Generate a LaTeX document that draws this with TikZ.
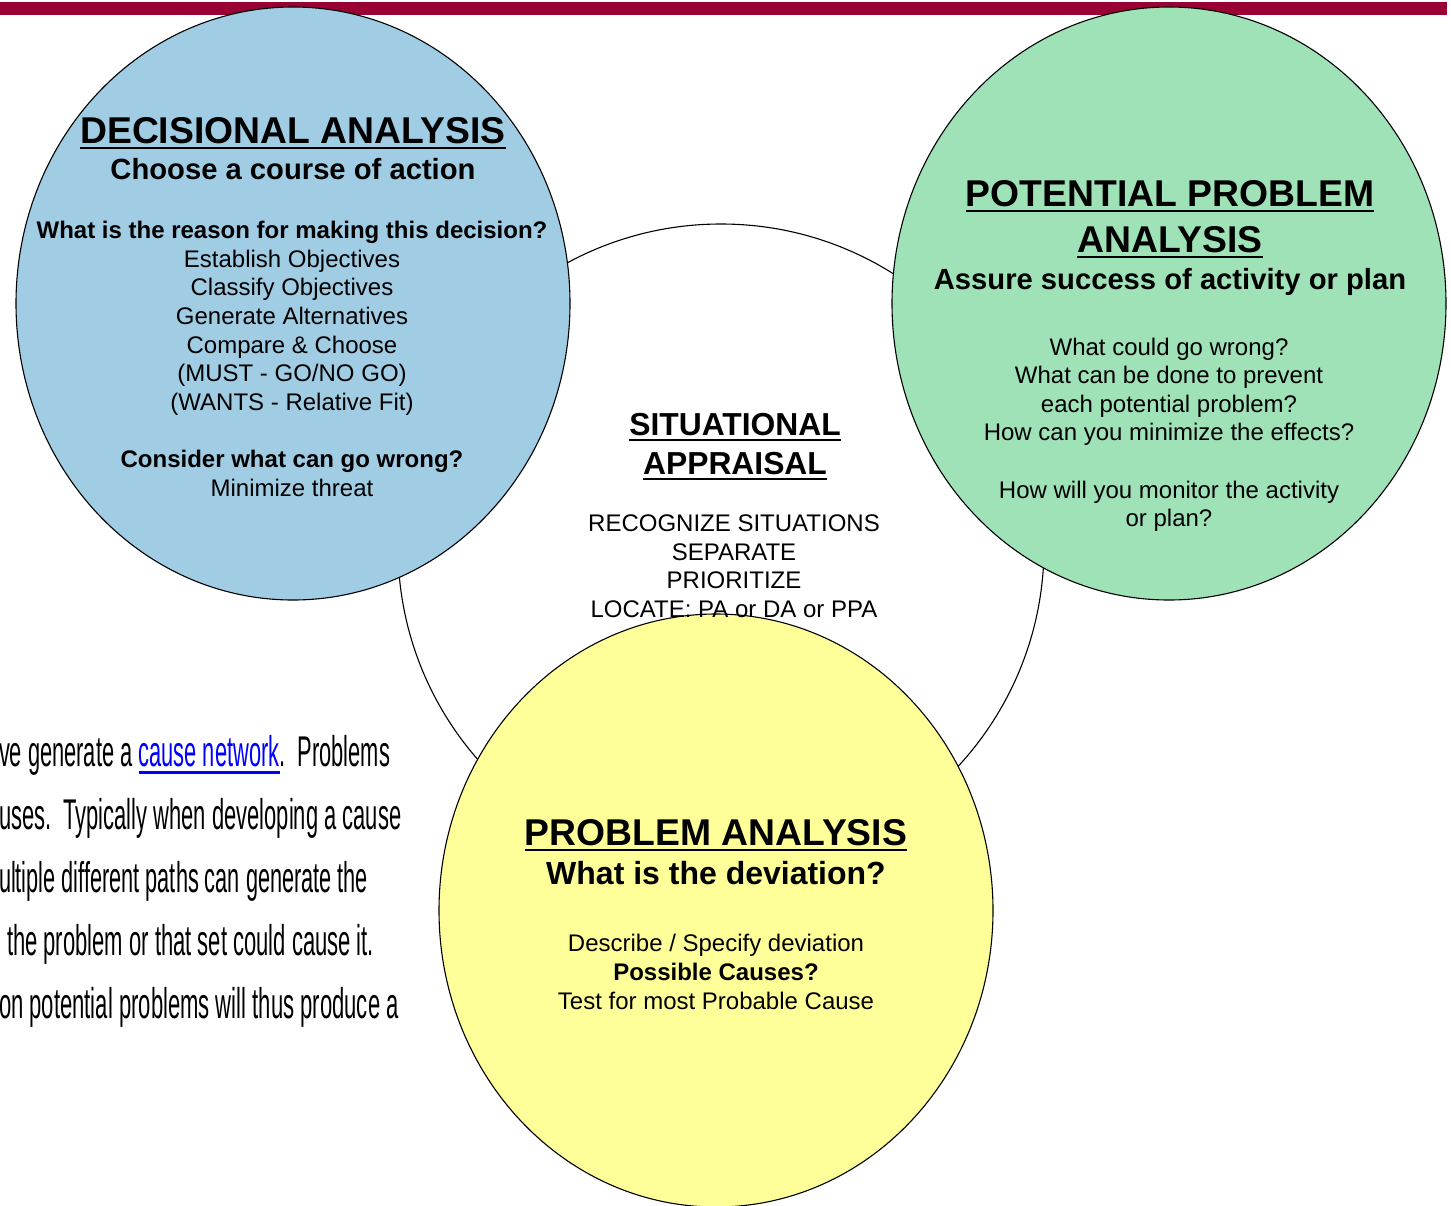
\documentclass[tikz,border=0pt]{standalone}
\usepackage{fontspec}
\setmainfont{Liberation Sans}
\usepackage{graphicx}

\definecolor{barred}{HTML}{990033}
\definecolor{dablue}{HTML}{A0CCE4}
\definecolor{ppagreen}{HTML}{A0E2B8}
\definecolor{payellow}{HTML}{FFFF99}
\definecolor{linkblue}{HTML}{0000FF}

% underline with chosen depth (#1) and thickness (#2)
\newcommand{\ulrule}[3]{\setbox0\hbox{#3}\rlap{\rule[-#1]{\wd0}{#2}}\box0}
\newcommand{\titleul}[1]{\ulrule{3pt}{1pt}{#1}}

\begin{document}
\begin{tikzpicture}[x=0.5pt, y=-0.5pt,
  lbl/.style={inner sep=0pt, outer sep=0pt, anchor=base},
  titlefont/.style={font=\fontsize{18.65}{22}\selectfont\bfseries},
  subfont/.style={font=\fontsize{14.6}{17}\selectfont\bfseries},
  bigsubfont/.style={font=\fontsize{16}{19}\selectfont\bfseries},
  bodyfont/.style={font=\fontsize{12}{14.4}\selectfont},
  bodybold/.style={font=\fontsize{12}{14.4}\selectfont\bfseries},
  sitfont/.style={font=\fontsize{15.9}{19}\selectfont\bfseries},
  narrowfont/.style={font=\fontsize{21.5}{25}\selectfont},
  ring/.style={draw=black, line width=0.55pt}]
\useasboundingbox (0,0) rectangle (1451,1205);
\clip (0,0) rectangle (1451,1205);

% header bar
\fill[barred] (0,2) rectangle (1447,15);

% situational appraisal ring (behind the three analysis circles)
\draw[ring, fill=white] (721,547) circle [radius=161.5pt];

% the three analysis circles
\draw[ring, fill=dablue]   (293,303.5) ellipse [x radius=138.5pt, y radius=148.25pt];
\draw[ring, fill=ppagreen] (1169,303.5) ellipse [x radius=138.5pt, y radius=148.25pt];
\draw[ring, fill=payellow] (716,910.5) ellipse [x radius=138.5pt, y radius=148.25pt];

% running text on the left
\node[lbl, narrowfont, anchor=base west] (t1) at (-1,766)
  {\scalebox{0.508}[1]{ve generate a \textcolor{linkblue}{\ulrule{4pt}{1.5pt}{cause network}}.\ \ Problems}};
\node[lbl, narrowfont, anchor=base west] (t2) at (-1,829)
  {\scalebox{0.51}[1]{uses.\ \ Typically when developing a cause}};
\node[lbl, narrowfont, anchor=base west] (t3) at (-1,892)
  {\scalebox{0.505}[1]{ultiple different paths can generate the}};
\node[lbl, narrowfont, anchor=base west] (t4) at (7,955)
  {\scalebox{0.512}[1]{the problem or that set could cause it.}};
\node[lbl, narrowfont, anchor=base west] (t5) at (-1,1018)
  {\scalebox{0.513}[1]{on potential problems will thus produce a}};

% decisional analysis
\node[lbl, titlefont] (daT) at (293,143) {\titleul{DECISIONAL ANALYSIS}};
\node[lbl, subfont]   (daS) at (293,179) {Choose a course of action};
\node[lbl, bodybold]  (da0) at (292,238) {What is the reason for making this decision?};
\node[lbl, bodyfont]  (da1) at (292,267) {Establish Objectives};
\node[lbl, bodyfont]  (da2) at (292,295) {Classify Objectives};
\node[lbl, bodyfont]  (da3) at (292,324) {Generate Alternatives};
\node[lbl, bodyfont]  (da4) at (292,353) {Compare \& Choose};
\node[lbl, bodyfont]  (da5) at (292,381) {(MUST - GO/NO GO)};
\node[lbl, bodyfont]  (da6) at (292,410) {(WANTS - Relative Fit)};
\node[lbl, bodybold]  (da7) at (292,467) {Consider what can go wrong?};
\node[lbl, bodyfont]  (da8) at (292,496) {Minimize threat};

% potential problem analysis
\node[lbl, titlefont] (ppT1) at (1170,206) {\titleul{POTENTIAL PROBLEM}};
\node[lbl, titlefont] (ppT2) at (1170,252) {\titleul{ANALYSIS}};
\node[lbl, subfont]   (ppS)  at (1170,289) {Assure success of activity or plan};
\node[lbl, bodyfont]  (pp1)  at (1169,355) {What could go wrong?};
\node[lbl, bodyfont]  (pp2)  at (1169,383) {What can be done to prevent};
\node[lbl, bodyfont]  (pp3)  at (1169,412) {each potential problem?};
\node[lbl, bodyfont]  (pp4)  at (1169,440) {How can you minimize the effects?};
\node[lbl, bodyfont]  (pp5)  at (1169,498) {How will you monitor the activity};
\node[lbl, bodyfont]  (pp6)  at (1169,526) {or plan?};

% situational appraisal
\node[lbl, sitfont]  (saT1) at (735,435) {\ulrule{2.9pt}{0.9pt}{SITUATIONAL}};
\node[lbl, sitfont]  (saT2) at (735,474) {\ulrule{2.9pt}{0.9pt}{APPRAISAL}};
\node[lbl, bodyfont] (sa1)  at (734,531) {RECOGNIZE SITUATIONS};
\node[lbl, bodyfont] (sa2)  at (734,560) {SEPARATE};
\node[lbl, bodyfont] (sa3)  at (734,588) {PRIORITIZE};
\node[lbl, bodyfont] (sa4)  at (734,617) {LOCATE: PA or DA or PPA};

% problem analysis
\node[lbl, titlefont]  (paT) at (716,845) {\titleul{PROBLEM ANALYSIS}};
\node[lbl, bigsubfont] (paS) at (716,884) {What is the deviation?};
\node[lbl, bodyfont]   (pa1) at (716,951) {Describe / Specify deviation};
\node[lbl, bodybold]   (pa2) at (716,980) {Possible Causes?};
\node[lbl, bodyfont]   (pa3) at (716,1009) {Test for most Probable Cause};
\end{tikzpicture}
\end{document}
